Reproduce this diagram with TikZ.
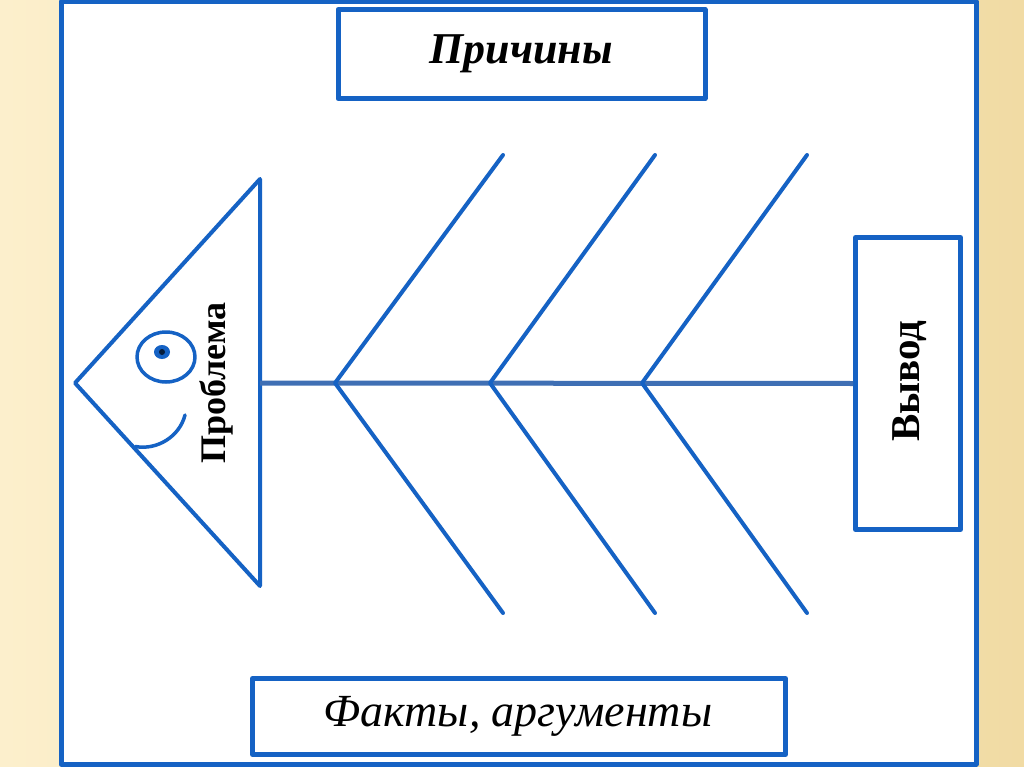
\documentclass[tikz,border=0pt]{standalone}
\usepackage{fontspec}
\setmainfont{Liberation Serif}
\definecolor{fishblue}{HTML}{1562C4}
\definecolor{spineblue}{HTML}{3F6FB4}
\definecolor{bgl}{HTML}{FCEFCC}
\definecolor{bgr}{HTML}{F1DBA4}
\begin{document}
\begin{tikzpicture}[x=1pt,y=-1pt,line join=round,line cap=round,
  frame/.style={draw=fishblue,line width=5pt},
  boxst/.style={draw=fishblue,line width=5pt,fill=white,inner sep=0pt},
  bone/.style={draw=fishblue,line width=4pt},
  spine/.style={draw=spineblue,line width=5pt,line cap=butt},
  lbl/.style={text=black,inner sep=0pt}]
\useasboundingbox (0,0) rectangle (1024,767);
\shade[left color=bgl,right color=bgr] (0,0) rectangle (1024,767);
\fill[white] (61,2) rectangle (976,764);
\draw[frame] (61,2) rectangle (976,764);
% boxes
\node[boxst,minimum width=367pt,minimum height=89pt] (causes) at (521.5,54) {};
\node[lbl,font=\fontsize{44}{44}\selectfont\bfseries\itshape] (causest) at (521,54) {Причины};
\node[boxst,minimum width=105pt,minimum height=292pt] (concl) at (908,383.5) {};
\node[lbl,rotate=90,font=\fontsize{41}{41}\selectfont\bfseries] (conclt) at (910,381) {Вывод};
\node[boxst,minimum width=533pt,minimum height=76pt] (facts) at (519,716.5) {};
\node[lbl,font=\fontsize{46}{46}\selectfont\itshape] (factst) at (518,716) {Факты, аргументы};
% head
\coordinate (tip) at (75,383);
\coordinate (htop) at (260,179);
\coordinate (hbot) at (260,586);
\coordinate (neck) at (260,383);
\draw[bone] (tip) -- (htop) -- (hbot) -- cycle;
\node[lbl,rotate=90,font=\fontsize{36}{36}\selectfont\bfseries] (probl) at (216,383) {Проблема};
\draw[bone,line width=3.5pt] (166,357) ellipse[x radius=29pt,y radius=25pt];
\fill[fishblue] (162,352) ellipse[x radius=8pt,y radius=7pt];
\fill[black!70!fishblue] (162,352) circle[radius=3pt];
\draw[bone,line width=3.5pt] (185,415) .. controls (179.6,436.6) and (157,450.5) .. (135.3,446.5);
% spine
\draw[spine] (neck) -- (concl.west);
% bones
\foreach \i/\vx/\ex in {1/335/503,2/490/655,3/642/807}{
  \coordinate (v\i) at (\vx,383);
  \coordinate (u\i) at (\ex,155);
  \coordinate (l\i) at (\ex,613);
  \draw[bone] (u\i) -- (v\i) -- (l\i);
}
\end{tikzpicture}
\end{document}
